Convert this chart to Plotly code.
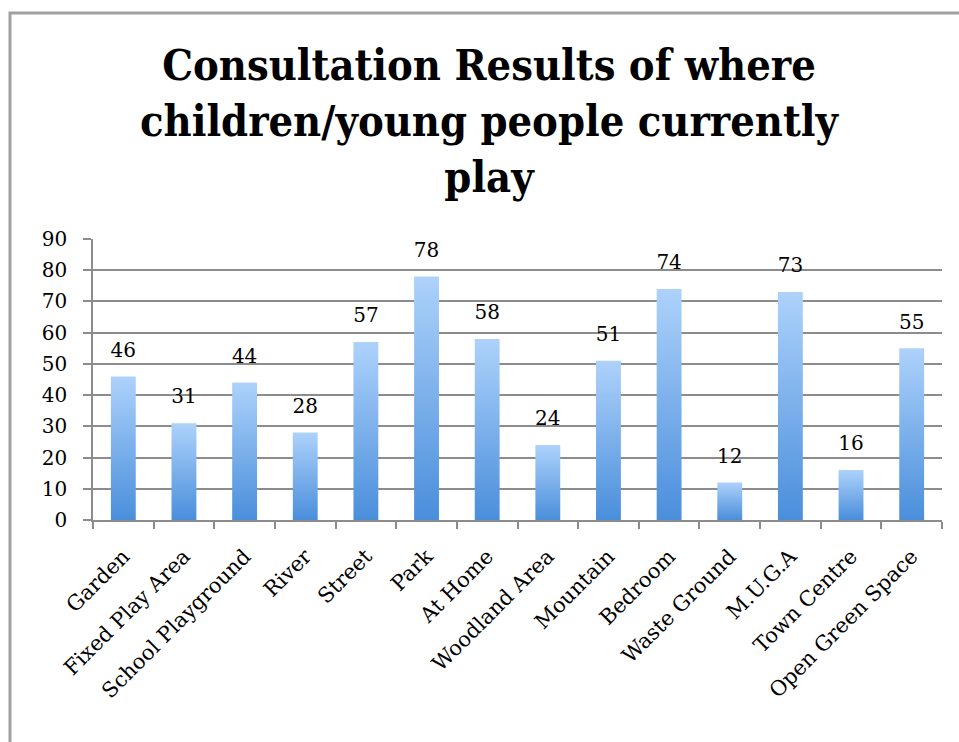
import plotly.graph_objects as go

categories = ["Garden", "Fixed Play Area", "School Playground", "River", "Street", "Park",
              "At Home", "Woodland Area", "Mountain", "Bedroom", "Waste Ground", "M.U.G.A",
              "Town Centre", "Open Green Space"]
values = [46, 31, 44, 28, 57, 78, 58, 24, 51, 74, 12, 73, 16, 55]
y_ticks = [0, 10, 20, 30, 40, 50, 60, 70, 80, 90]
title_text = "Consultation Results of where<br>children/young people currently<br>play"

W, H = 959, 742
L, R, T, B = 93, 17, 239, 222
half = 0.205
SERIF = "DejaVu Serif"

fig = go.Figure()
for i, (c, v) in enumerate(zip(categories, values)):
    fig.add_trace(go.Scatter(
        x=[i - half, i - half, i + half, i + half, i - half],
        y=[0, v, v, 0, 0],
        mode="lines", line=dict(width=0), fill="toself",
        fillgradient=dict(type="vertical",
                          colorscale=[[0, "#4A8EDB"], [1, "#ADD2FB"]]),
        name=c, showlegend=False, hoverinfo="skip"))

fig.add_trace(go.Scatter(
    x=list(range(len(categories))), y=values, mode="markers+text",
    marker=dict(size=22, color="rgba(0,0,0,0)"),
    text=[str(v) for v in values], textposition="top center",
    textfont=dict(family=SERIF, size=20, color="#000"),
    showlegend=False, hovertemplate="%{customdata}: %{y}<extra></extra>",
    customdata=categories))

pw = W - L - R
ph = H - T - B
fig.add_shape(type="rect", xref="paper", yref="paper",
              x0=(10 - L) / pw, x1=(W + 20 - L) / pw,
              y0=-(H + 20 - (H - B)) / ph, y1=((H - B) - 13) / ph,
              line=dict(color="#A0A0A0", width=3), layer="below")

fig.update_layout(
    width=W, height=H,
    margin=dict(l=L, r=R, t=T, b=B),
    paper_bgcolor="white", plot_bgcolor="white",
    title=dict(text=title_text, x=489 / W, xanchor="center", xref="container",
               y=1 - 80 / H, yanchor="top", yref="container",
               font=dict(family="DejaVu Serif Condensed, DejaVu Serif", size=43,
                         color="#000", weight="bold")),
    xaxis=dict(range=[-0.5, len(categories) - 0.5],
               tickvals=list(range(len(categories))), ticktext=categories,
               tickangle=-45, ticks="", showgrid=False, zeroline=False,
               showline=True, linecolor="#8C8C8C", linewidth=1.5,
               ticklabelstandoff=14,
               tickfont=dict(family=SERIF, size=21, color="#000"),
               minor=dict(tick0=-0.5, dtick=1, ticks="outside", ticklen=7,
                          tickcolor="#8C8C8C", tickwidth=1.5, showgrid=False)),
    yaxis=dict(range=[0, 90], tickvals=y_ticks, ticks="outside", ticklen=8,
               tickcolor="#8C8C8C", tickwidth=1.5,
               showgrid=True, gridcolor="#8C8C8C", gridwidth=1.5, zeroline=False,
               showline=True, linecolor="#8C8C8C", linewidth=1.5,
               ticklabelstandoff=12,
               tickfont=dict(family=SERIF, size=20, color="#000")),
)

fig.write_html("out.html")
